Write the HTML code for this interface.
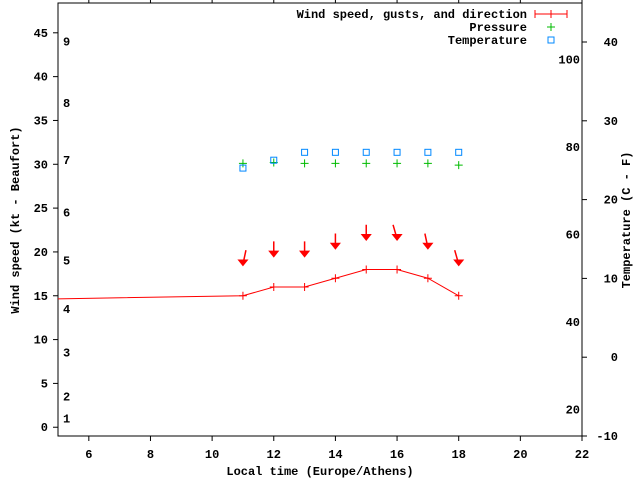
<!DOCTYPE html>
<html><head><meta charset="utf-8"><style>
body{margin:0;background:#fff}
svg{display:block;font-family:"Liberation Mono","DejaVu Sans Mono",monospace;font-weight:bold;font-size:12px}
</style></head><body>
<svg id="c" width="640" height="480" xmlns="http://www.w3.org/2000/svg">
<rect width="640" height="480" fill="#fff"/>
<g id="axes"></g>
<g id="marks"></g>
<text x="320" y="475" text-anchor="middle">Local time (Europe/Athens)</text>
<text transform="translate(19,220) rotate(-90)" text-anchor="middle">Wind speed (kt - Beaufort)</text>
<text transform="translate(630,220) rotate(-90)" text-anchor="middle">Temperature (C - F)</text>
<g>
<text x="527" y="18" text-anchor="end">Wind speed, gusts, and direction</text>
<path d="M535 14H567M535 10V18M551 10V18M567 10V18" stroke="#f00" fill="none"/>
<text x="527" y="31" text-anchor="end">Pressure</text>
<path d="M547 27H555M551 23V31" stroke="#0b0"/>
<text x="527" y="44" text-anchor="end">Temperature</text>
<rect x="548" y="37" width="6" height="6" fill="none" stroke="#08f"/>
</g>
</svg>
<script>
const hours=[11,12,13,14,15,16,17,18];
const windStart=[5,14.65];
const wind=[15,16,16,17,18,18,17,15];
const gusts=[18.6,19.6,19.6,20.5,21.5,21.5,20.5,18.6];
const dirSlant=[-3,0,0,0,0,4,3,4];
const pressure=[30.1,30.2,30.1,30.1,30.1,30.1,30.1,29.9];
const tempC=[24,25,26,26,26,26,26,26];
const xTicks=[6,8,10,12,14,16,18,20,22];
const yTicks=[0,5,10,15,20,25,30,35,40,45];
const cTicks=[-10,0,10,20,30,40];
const fLabels=[20,40,60,80,100];
const bft=[1,2,3,4,5,6,7,8,9];
const bftKt=[1,3.5,8.5,13.5,19,24.5,30.5,37,44];
const L=58,R=582,T=3,B=436;
const X=h=>L+(h-5)/(22-5)*(R-L);
const Y=v=>B-(v+1)/(48.4+1)*(B-T);
const YC=c=>B-(c+10)/50*(B-42);
const YF=f=>YC((f-32)*5/9);
const NS="http://www.w3.org/2000/svg";
function mk(p,tag,at){const e=document.createElementNS(NS,tag);for(const k in at)e.setAttribute(k,at[k]);p.appendChild(e);return e;}
const ax=document.getElementById('axes'),mg=document.getElementById('marks');
const fr=mk(ax,'rect',{x:L,y:T,width:R-L,height:B-T,fill:'none',stroke:'#000'});


xTicks.forEach(t=>{const x=X(t);
const l=mk(ax,'path',{d:`M${x} ${B}V${B+5}M${x} ${T}V${T-4}`,stroke:'#000'});


const tx=mk(ax,'text',{x:x,y:B+22,'text-anchor':'middle'});tx.textContent=t;

});
yTicks.forEach(t=>{const y=Y(t);
const l=mk(ax,'path',{d:`M${L-5} ${y}H${L}`,stroke:'#000'});


const tx=mk(ax,'text',{x:L-10,y:y+4,'text-anchor':'end'});tx.textContent=t;

});
cTicks.forEach(t=>{const y=YC(t);
const l=mk(ax,'path',{d:`M${R} ${y}H${R+5}`,stroke:'#000'});


const tx=mk(ax,'text',{x:R+36,y:y+4,'text-anchor':'end'});tx.textContent=t;

});
fLabels.forEach(t=>{const tx=mk(ax,'text',{x:R-2,y:YF(t)+4,'text-anchor':'end'});tx.textContent=t;

});
bft.forEach((b,i)=>{const tx=mk(ax,'text',{x:63,y:Y(bftKt[i])+4});tx.textContent=b;

});
// wind line
let pts=[[X(windStart[0]),Y(windStart[1])]].concat(hours.map((h,i)=>[X(h),Y(wind[i])]));
const wl=mk(mg,'polyline',{points:pts.map(p=>p.join(',')).join(' '),fill:'none',stroke:'#f00'});


hours.forEach((h,i)=>{const x=X(h),y=Y(wind[i]);
const p=mk(mg,'path',{d:`M${x-4} ${y}H${x+4}M${x} ${y-4}V${y+4}`,stroke:'#f00'});


const gy=Y(gusts[i]),s=dirSlant[i];
const a=mk(mg,'path',{d:`M${x-s} ${gy-14}L${x} ${gy}M${x-4} ${gy-4}L${x} ${gy+1}L${x+4} ${gy-4}Z`,stroke:'#f00',fill:'#f00','stroke-width':1.5});


const py=Y(pressure[i]);
const pp=mk(mg,'path',{d:`M${x-4} ${py}H${x+4}M${x} ${py-4}V${py+4}`,stroke:'#0b0'});


const ty=YC(tempC[i]);
const tr=mk(mg,'rect',{x:x-3,y:ty-3,width:6,height:6,fill:'none',stroke:'#08f'});

});
</script>
</body></html>
